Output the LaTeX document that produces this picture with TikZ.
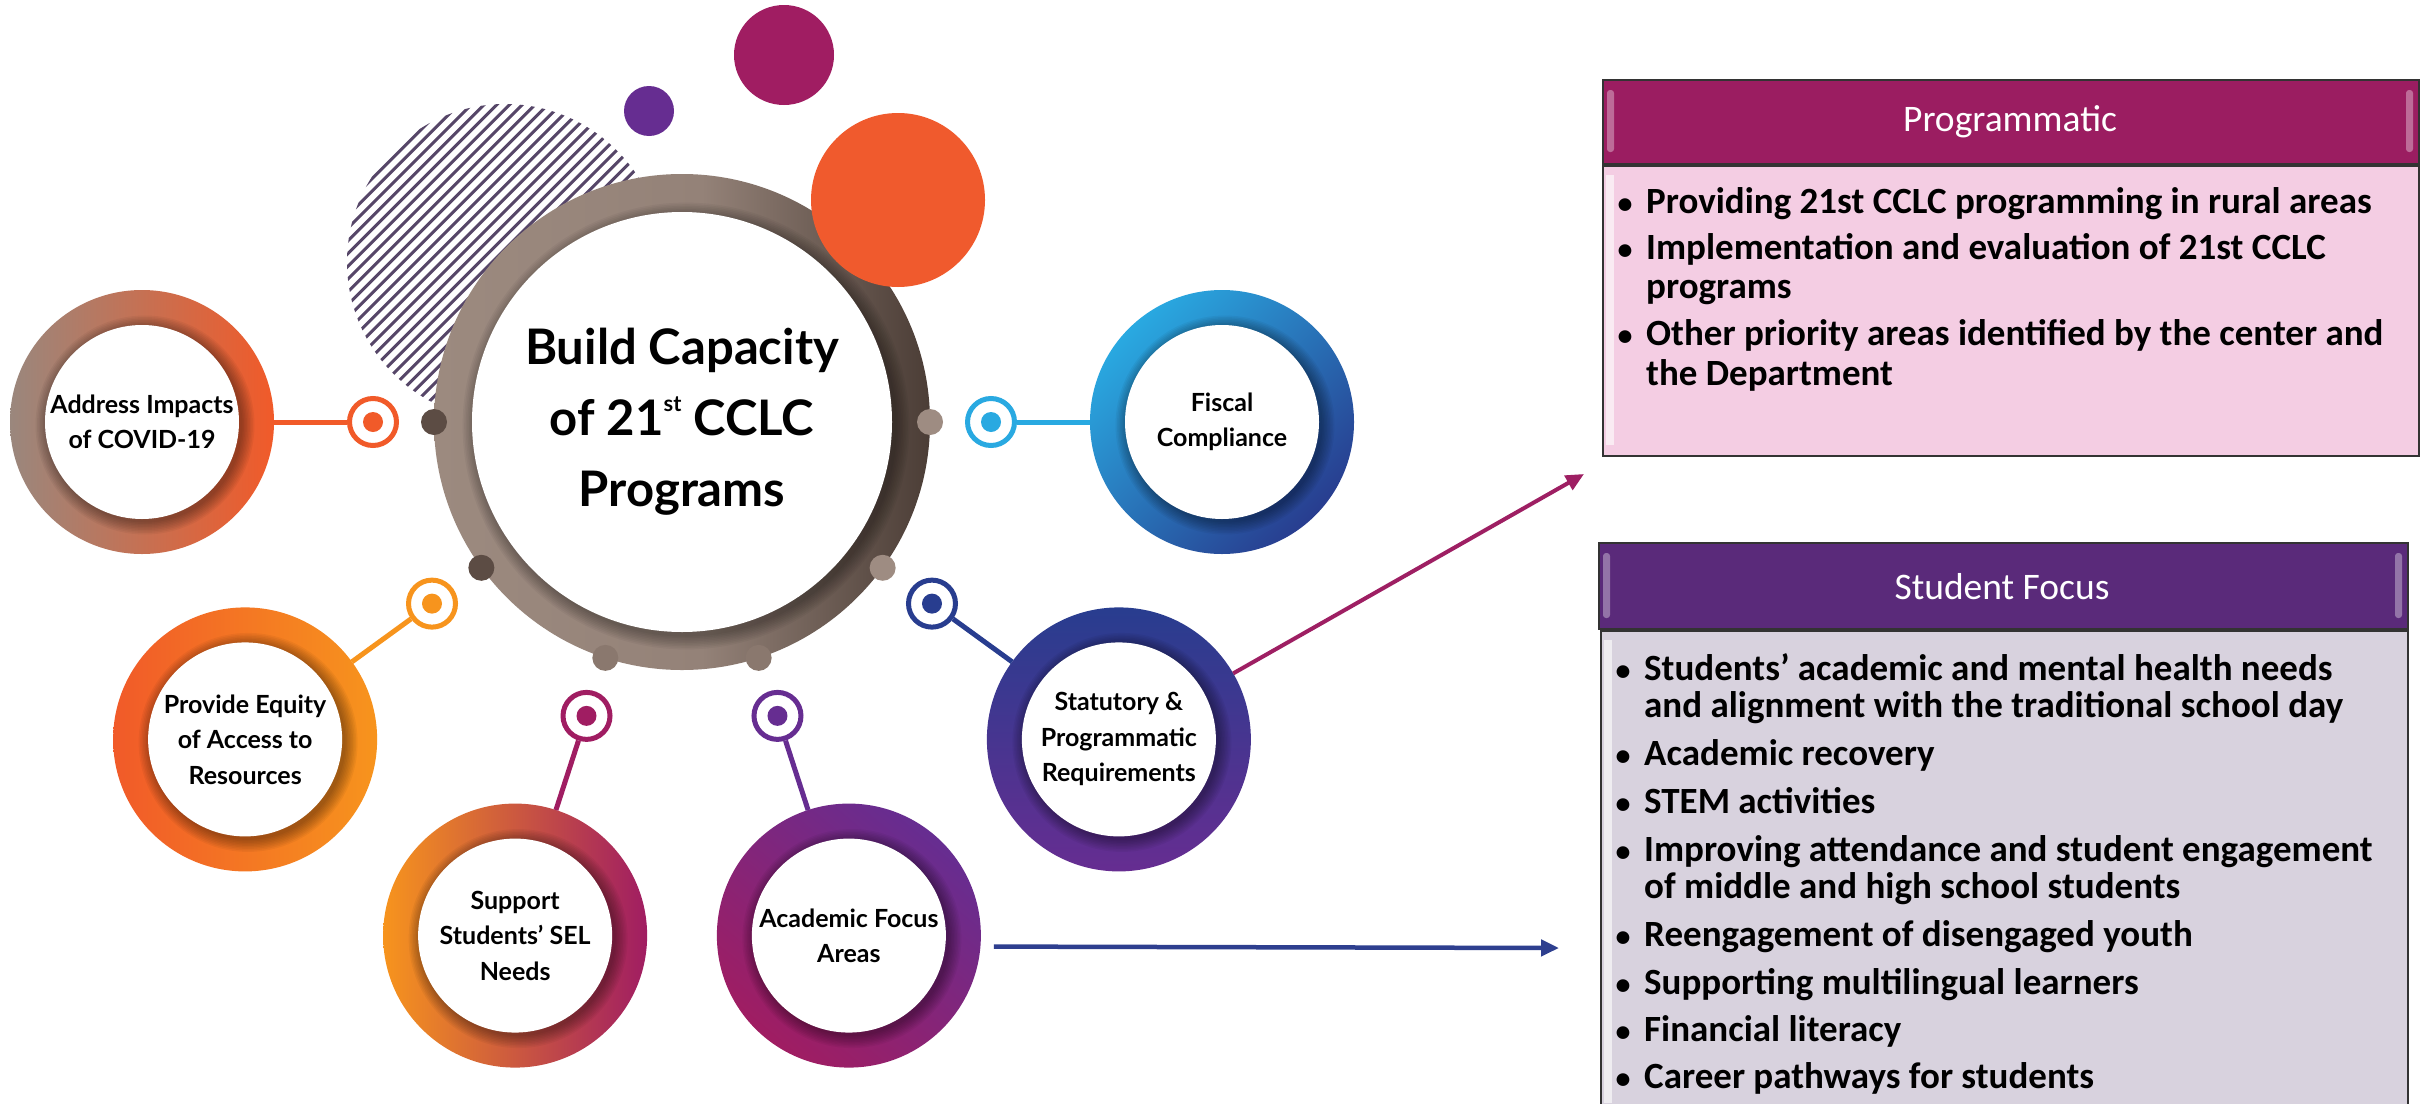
\documentclass[tikz,border=0pt]{standalone}
\usepackage{fontspec}
\newfontfamily\circfont{Lato}
\newfontfamily\boxfont{Carlito}
\usetikzlibrary{arrows.meta,calc}
\definecolor{taupeL}{HTML}{9C8A7F}
\definecolor{taupeLM}{HTML}{948278}
\definecolor{taupeD}{HTML}{4B3D36}
\definecolor{knobD}{HTML}{5C4C44}
\definecolor{knobM}{HTML}{8A786E}
\definecolor{knobL}{HTML}{9E8C82}
\definecolor{cOrR}{HTML}{F15A29}
\definecolor{cOrY}{HTML}{F7941D}
\definecolor{cMag}{HTML}{A01D62}
\definecolor{cPur}{HTML}{662D91}
\definecolor{cBlu}{HTML}{283D8F}
\definecolor{cCya}{HTML}{29A9E1}
\definecolor{cTaup}{HTML}{9A877D}
\definecolor{dotOr}{HTML}{F05A2D}
\definecolor{hatchC}{HTML}{564668}
\definecolor{prgHead}{HTML}{9B1D61}
\definecolor{prgBody}{HTML}{F4CDE3}
\definecolor{sfHead}{HTML}{5A2A7A}
\definecolor{sfBody}{HTML}{D8D2DE}
\definecolor{edgeC}{HTML}{333333}
\definecolor{arrMag}{HTML}{9E1F63}
\definecolor{arrBlu}{HTML}{2E3F8F}

\pgfdeclarehorizontalshading{taupering}{100bp}{color(0bp)=(taupeL); color(25bp)=(taupeL); color(52bp)=(taupeLM); color(75bp)=(taupeD); color(100bp)=(taupeD)}

\newcommand\satring[2]{%
  \shade[#2] (#1) circle (132pt);
  \begin{scope}
    \clip (#1) circle (132pt);
    \foreach \i in {1,...,9} \fill[black,opacity=0.045] ($(#1)+(3,3)$) circle ({(96+\i*1.5)*1pt});
  \end{scope}
  \fill[white] (#1) circle (97pt);
}

\begin{document}
\begin{tikzpicture}[x=1pt,y=-1pt,
  satnode/.style={circle, minimum size=264pt, inner sep=0pt, outer sep=0pt, align=center,
    font=\circfont\bfseries\fontsize{25}{35.5}\selectfont},
  tgtnode/.style={circle, minimum size=47pt, inner sep=0pt, line width=5pt, draw=#1, fill=white},
  linkline/.style={line width=5pt, draw=#1},
  boxline/.style={anchor=base west, inner sep=0pt, font=\boxfont\bfseries\fontsize{37}{40}\selectfont},
  bulletdot/.style={anchor=base, inner sep=0pt, font=\boxfont\bfseries\fontsize{30}{40}\selectfont},
  headbox/.style={draw=edgeC, line width=2pt, anchor=north west, inner sep=0pt},
  headtxt/.style={text=white, font=\boxfont\fontsize{37.5}{40}\selectfont},
]
\useasboundingbox (0,0) rectangle (2430,1103);
\fill[white] (0,0) rectangle (2430,1103);

\coordinate (C) at (682,422);

% hatched circle
\begin{scope}
  \clip (505,262) circle (158pt);
  \begin{scope}[shift={(505,262)}, rotate=45]
    \foreach \k in {-19,...,19} \draw[hatchC, line width=3pt] (-180,\k*9) -- (180,\k*9);
  \end{scope}
\end{scope}

% central ring
\shade[shading=taupering] (C) circle (248pt);
\begin{scope}
  \clip (C) circle (248pt);
  \foreach \i in {1,...,9} \fill[black,opacity=0.04] ($(C)+(4,4)$) circle ({(209+\i*1.6)*1pt});
\end{scope}
\fill[white] (C) circle (210pt);

% knobs
\fill[knobD] ($(C)+(180:248)$) circle (13pt);
\fill[knobD] ($(C)+(144:248)$) circle (13pt);
\fill[knobM] ($(C)+(108:248)$) circle (13pt);
\fill[knobM] ($(C)+(72:248)$) circle (13pt);
\fill[knobL] ($(C)+(36:248)$) circle (13pt);
\fill[knobL] ($(C)+(0:248)$) circle (13pt);

% decorative dots
\fill[cPur] (649,111) circle (25pt);
\fill[cMag] (784,55) circle (50pt);
\fill[dotOr] (898,200) circle (87pt);

\node[align=center, inner sep=0pt, font=\circfont\bfseries\fontsize{49}{71}\selectfont] (ctr) at (C)
  {Build Capacity\\of 21\raisebox{0.5em}{\fontsize{22}{22}\selectfont st} CCLC\\Programs};

% satellite positions
\coordinate (pAddr) at ($(C)+(180:540)$);
\coordinate (pProv) at ($(C)+(144:540)$);
\coordinate (pSel)  at ($(C)+(108:540)$);
\coordinate (pAcad) at ($(C)+(72:540)$);
\coordinate (pStat) at ($(C)+(36:540)$);
\coordinate (pFisc) at ($(C)+(0:540)$);

\satring{pAddr}{left color=cTaup, middle color=cTaup!55!cOrR, right color=cOrR}
\satring{pProv}{left color=cOrR, right color=cOrY}
\satring{pSel}{left color=cOrY, middle color=cOrY!25!cMag, right color=cMag}
\satring{pAcad}{top color=cPur, bottom color=cMag, shading angle=-40}
\satring{pStat}{top color=cBlu, middle color=cBlu!60!cPur, bottom color=cPur}
\satring{pFisc}{top color=cCya, middle color=cCya!55!cBlu, bottom color=cBlu, shading angle=45}

\node[satnode] (addr) at (pAddr) {Address Impacts\\of COVID-19};
\node[satnode] (prov) at (pProv) {Provide Equity\\of Access to\\Resources};
\node[satnode] (sel)  at (pSel)  {Support\\Students’ SEL\\Needs};
\node[satnode] (acad) at (pAcad) {Academic Focus\\Areas};
\node[satnode] (stat) at (pStat) {Statutory \&\\Programmatic\\Requirements};
\node[satnode] (fisc) at (pFisc) {Fiscal\\Compliance};

% targets and links
\foreach \nm/\ang/\col/\sat in {tAddr/180/cOrR/addr, tProv/144/cOrY/prov, tSel/108/cMag/sel,
    tAcad/72/cPur/acad, tStat/36/cBlu/stat, tFisc/0/cCya/fisc}{
  \node[tgtnode=\col] (\nm) at ($(C)+(\ang:309)$) {};
  \fill[\col] (\nm) circle (10pt);
  \draw[linkline=\col] (\nm) -- (\sat);
}

% arrows
\coordinate (prgEnd) at (1584,474);
\coordinate (sfEnd) at (1559,948);
\draw[arrMag, line width=4pt, -{Triangle[length=18pt,width=16pt]}] (stat.30) -- (prgEnd);
\draw[arrBlu, line width=4.5pt, -{Triangle[length=18pt,width=16pt]}] ($(acad.east)+(13,11)$) -- (sfEnd);

% Programmatic box
\node[headbox, fill=prgHead, minimum width=816pt, minimum height=84pt] (prgH) at (1602,79) {};
\fill[white, opacity=0.35, rounded corners=3pt] (1607,90) rectangle (1614,152);
\fill[white, opacity=0.35, rounded corners=3pt] (2406,90) rectangle (2413,152);
\node[headtxt] (prgT) at (2010,122) {Programmatic};
\node[headbox, fill=prgBody, minimum width=816pt, minimum height=290pt] (prgB) at (1602,165) {};
\fill[white, opacity=0.6] (1606,175) rectangle (1614,445);
\foreach \yy/\tx/\bl [count=\i] in {213/Providing 21st CCLC programming in rural areas/1,
    259/Implementation and evaluation of 21st CCLC/1, 298/programs/0,
    345/Other priority areas identified by the center and/1, 385/the Department/0}{
  \node[boxline] (prgL\i) at (1646,\yy) {\tx};
  \ifnum\bl=1 \node[bulletdot] (prgD\i) at (1625,\yy) {•};\fi
}

% Student Focus box
\node[headbox, fill=sfHead, minimum width=809pt, minimum height=86pt] (sfH) at (1598,542) {};
\fill[white, opacity=0.35, rounded corners=3pt] (1603,553) rectangle (1610,618);
\fill[white, opacity=0.35, rounded corners=3pt] (2395,553) rectangle (2402,618);
\node[headtxt] (sfT) at (2002,587) {Student Focus};
\node[headbox, fill=sfBody, minimum width=807pt, minimum height=480pt] (sfB) at (1600,630) {};
\fill[white, opacity=0.6] (1604,640) rectangle (1612,1103);
\foreach \yy/\tx/\bl [count=\i] in {680/Students’ academic and mental health needs/1,
    717/and alignment with the traditional school day/0, 765/Academic recovery/1,
    813/STEM activities/1, 861/Improving attendance and student engagement/1,
    898/of middle and high school students/0, 946/Reengagement of disengaged youth/1,
    994/Supporting multilingual learners/1, 1041/Financial literacy/1,
    1088/Career pathways for students/1}{
  \node[boxline] (sfL\i) at (1644,\yy) {\tx};
  \ifnum\bl=1 \node[bulletdot] (sfD\i) at (1623,\yy) {•};\fi
}
\end{tikzpicture}
\end{document}
